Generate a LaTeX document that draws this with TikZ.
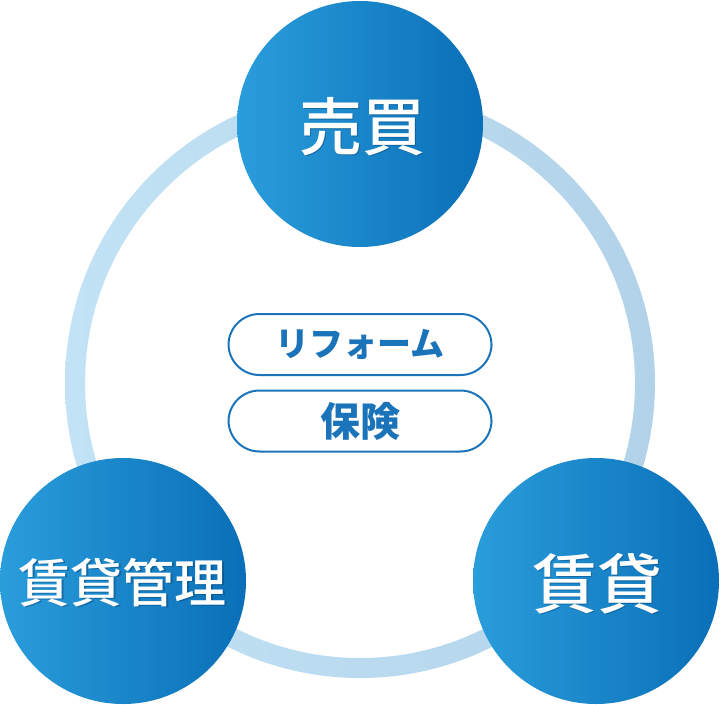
\documentclass[tikz,border=0pt]{standalone}
\usepackage{fontspec}
\newfontfamily\jpfont{Noto Sans CJK JP}
\newfontfamily\jpmed{Noto Sans CJK JP Medium}
\definecolor{ringL}{HTML}{C2E3F5}
\definecolor{ringR}{HTML}{B2D2E9}
\definecolor{ballL}{HTML}{2A9DDB}
\definecolor{ballR}{HTML}{0A6FB8}
\definecolor{pillblue}{HTML}{1B74BA}
\definecolor{shadowblue}{HTML}{053A66}
\begin{document}
\begin{tikzpicture}[x=1pt,y=-1pt,
    ball/.style={circle,minimum size=246pt,inner sep=0pt,left color=ballL,right color=ballR},
    word/.style={inner sep=0pt,text=white,font=\jpmed\fontsize{#1}{#1}\selectfont},
    wordshadow/.style={inner sep=0pt,text=shadowblue,text opacity=0.4,font=\jpmed\fontsize{#1}{#1}\selectfont},
    pill/.style={draw=pillblue,line width=2pt,rounded corners=31pt,minimum width=263pt,minimum height=61pt,
        fill=white,text=pillblue,font=\jpfont\bfseries\fontsize{#1}{#1}\selectfont}]

    \useasboundingbox (0,0) rectangle (720,704);

    % ring behind the three circles
    \path[left color=ringL,right color=ringR,even odd rule]
        (360,383) circle[radius=295pt] (360,383) circle[radius=275pt];

    \node[ball] (sale) at (360,124) {};
    \node[ball] (mgmt) at (123,581) {};
    \node[ball] (rent) at (596,581) {};

    \node[wordshadow=63] (sale-s) at (363,128) {売買};
    \node[word=63] (sale-t) at (362,127) {売買};
    \node[wordshadow=52] (mgmt-s) at (124,584) {賃貸管理};
    \node[word=52] (mgmt-t) at (123,583) {賃貸管理};
    \node[wordshadow=65] (rent-s) at (598,585) {賃貸};
    \node[word=65] (rent-t) at (597,584) {賃貸};

    \node[pill=34] (reform) at (360,344.5) {リフォーム};
    \node[pill=40] (insure) at (360,421) {保険};

\end{tikzpicture}
\end{document}
